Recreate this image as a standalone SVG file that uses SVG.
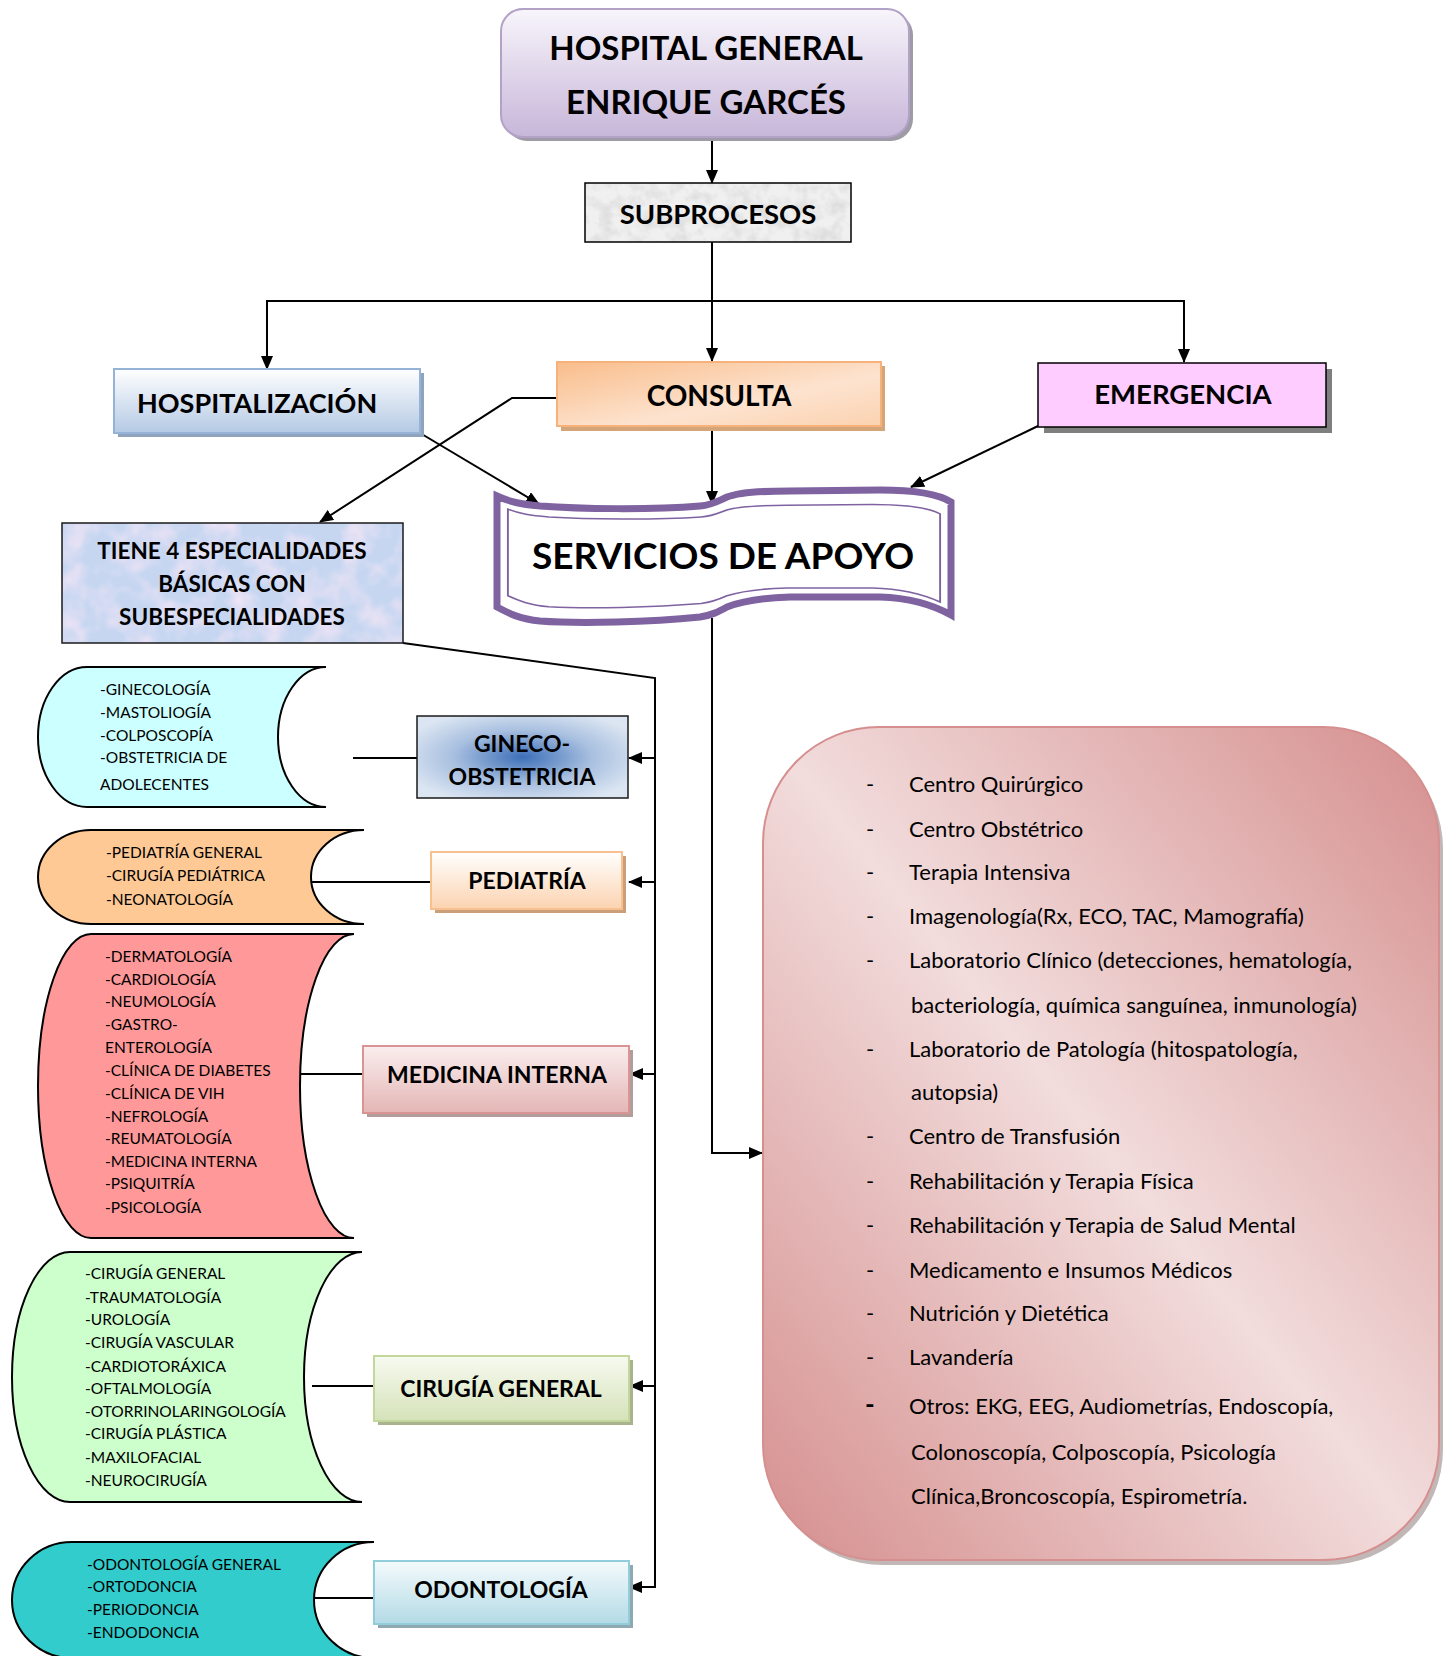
<svg xmlns="http://www.w3.org/2000/svg" width="1450" height="1656" viewBox="0 0 1450 1656">
<style>
.f{font-family:Lato,"Liberation Sans",sans-serif;fill:#000}
.b{font-weight:bold}
.c{text-anchor:middle}
.ln{stroke:#000;stroke-width:2;fill:none}
.ar{marker-end:url(#ah)}
.lst{font-size:15.5px}
.srv{font-size:22px}
.lbl{font-size:23px}
</style>
<defs>
<marker id="ah" viewBox="0 0 14 12" refX="13" refY="6" markerWidth="14" markerHeight="12" markerUnits="userSpaceOnUse" orient="auto"><path d="M0,0 L14,6 L0,12 z" fill="#000"/></marker>
<linearGradient id="gHosp" x1="0" y1="0" x2="0" y2="1"><stop offset="0" stop-color="#f8f5fb"/><stop offset="1" stop-color="#c7b6d9"/></linearGradient>
<linearGradient id="gHz" x1="0" y1="0" x2="0" y2="1"><stop offset="0" stop-color="#ffffff"/><stop offset="1" stop-color="#b4c9e4"/></linearGradient>
<linearGradient id="gCons" x1="0" y1="0" x2="1" y2="1"><stop offset="0" stop-color="#f9bd8b"/><stop offset="0.6" stop-color="#fde3cf"/><stop offset="1" stop-color="#fbd2b0"/></linearGradient>
<linearGradient id="gPed" x1="0" y1="0" x2="0" y2="1"><stop offset="0" stop-color="#ffffff"/><stop offset="1" stop-color="#fbd3b0"/></linearGradient>
<linearGradient id="gMed" x1="0" y1="0" x2="0" y2="1"><stop offset="0" stop-color="#faeeee"/><stop offset="1" stop-color="#e4b6b5"/></linearGradient>
<linearGradient id="gCir" x1="0" y1="0" x2="0" y2="1"><stop offset="0" stop-color="#f7faf0"/><stop offset="1" stop-color="#d5e2b9"/></linearGradient>
<linearGradient id="gOdo" x1="0" y1="0" x2="0" y2="1"><stop offset="0" stop-color="#f4fafc"/><stop offset="1" stop-color="#b3dbe6"/></linearGradient>
<radialGradient id="gGin" cx="0.5" cy="0.5" r="0.6"><stop offset="0" stop-color="#3c6fb8"/><stop offset="0.55" stop-color="#a9c0e0"/><stop offset="1" stop-color="#dce6f2"/></radialGradient>
<linearGradient id="gBig" x1="1" y1="0" x2="0" y2="1"><stop offset="0" stop-color="#d58f8e"/><stop offset="0.5" stop-color="#f2dcdc"/><stop offset="1" stop-color="#d58f8e"/></linearGradient>
<filter id="texG" x="0" y="0" width="1" height="1">
<feTurbulence type="fractalNoise" baseFrequency="0.07" numOctaves="3" seed="2" result="n"/>
<feColorMatrix in="n" type="matrix" values="0 0 0 0 0.62  0 0 0 0 0.62  0 0 0 0 0.62  0 0 0 1.4 -0.55" result="c"/>
<feComposite in="c" in2="SourceGraphic" operator="in"/>
</filter>
<filter id="texP" x="0" y="0" width="1" height="1">
<feTurbulence type="fractalNoise" baseFrequency="0.035" numOctaves="3" seed="7" result="n"/>
<feColorMatrix in="n" type="matrix" values="0 0 0 0 0.93  0 0 0 0 0.80  0 0 0 0 0.93  0 0 0 1.8 -0.7" result="c"/>
<feComposite in="c" in2="SourceGraphic" operator="in"/>
</filter>
<path id="wave" d="M497,496 C510,502 520,504 540,506 C580,509 650,510 700,506 C712,505 718,501 727,497 C740,492 760,491 790,491 L880,490 C920,490 940,495 951,502 L951,615 C935,606 910,598 880,597 L790,597 C760,598 740,602 727,607 C718,612 712,615 700,617 C650,622 580,624 540,621 C520,619 510,614 497,607 Z"/>
</defs>

<g id="connectors">
<path class="ln ar" d="M712,139 V183"/>
<path class="ln ar" d="M712,242 V361"/>
<path class="ln ar" d="M712,301 H267 V369"/>
<path class="ln ar" d="M712,301 H1184 V362"/>
<path class="ln ar" d="M420,433 L539,504"/>
<path class="ln ar" d="M557,398 H512 L320,522"/>
<path class="ln ar" d="M712,431 V504"/>
<path class="ln ar" d="M1038,426 L911,487"/>
<path class="ln ar" d="M712,618 V1153 H762"/>
<path class="ln ar" d="M403,643 L655,678 V1587 H629"/>
<path class="ln ar" d="M655,758 H629"/>
<path class="ln ar" d="M655,882 H629"/>
<path class="ln ar" d="M655,1074 H630"/>
<path class="ln ar" d="M655,1386 H630"/>
<path class="ln" d="M353,758 H417"/>
<path class="ln" d="M311,882 H431"/>
<path class="ln" d="M300,1074 H363"/>
<path class="ln" d="M312,1386 H374"/>
<path class="ln" d="M314,1598 H374"/>
</g>

<g id="hospital">
<rect x="505" y="13" width="408" height="128" rx="22" fill="#9e9aa6"/>
<rect x="501" y="9" width="408" height="128" rx="22" fill="url(#gHosp)" stroke="#b3a2c7" stroke-width="2"/>
<text class="f b c" x="706" y="60" font-size="33">HOSPITAL GENERAL</text>
<text class="f b c" x="706" y="114" font-size="33">ENRIQUE GARCÉS</text>
</g>

<g id="subprocesos">
<rect x="585" y="183" width="266" height="59" fill="#f0f0f0"/>
<rect x="585" y="183" width="266" height="59" fill="#fff" filter="url(#texG)"/>
<rect x="585" y="183" width="266" height="59" fill="none" stroke="#000" stroke-width="1.5"/>
<text class="f b c" x="718" y="224" font-size="27.5">SUBPROCESOS</text>
</g>

<g id="hospitalizacion">
<rect x="118" y="373" width="306" height="64" fill="#8fa3bd"/>
<rect x="114" y="369" width="306" height="64" fill="url(#gHz)" stroke="#95b3d7" stroke-width="2"/>
<text class="f b" x="137" y="413" font-size="27">HOSPITALIZACIÓN</text>
</g>

<g id="consulta">
<rect x="561" y="366" width="324" height="65" fill="#d3a578"/>
<rect x="557" y="362" width="324" height="64" fill="url(#gCons)" stroke="#f6b27a" stroke-width="2"/>
<text class="f b c" x="719" y="406" font-size="28">CONSULTA</text>
</g>

<g id="emergencia">
<rect x="1044" y="369" width="288" height="64" fill="#7f7f7f"/>
<rect x="1038" y="363" width="288" height="64" fill="#ffccff" stroke="#000" stroke-width="1.5"/>
<text class="f b c" x="1183" y="404" font-size="27.5">EMERGENCIA</text>
</g>

<g id="servicios">
<use href="#wave" fill="#fff" stroke="#7f63a1" stroke-width="7" stroke-linejoin="miter"/>
<use href="#wave" fill="none" stroke="#7f63a1" stroke-width="2" vector-effect="non-scaling-stroke" transform="translate(724,556) scale(0.952,0.78) translate(-724,-556)"/>
<text class="f b c" x="723" y="569" font-size="37">SERVICIOS DE APOYO</text>
</g>

<g id="tiene">
<rect x="62" y="523" width="341" height="120" fill="#c6d6f1"/>
<rect x="62" y="523" width="341" height="120" fill="#fff" filter="url(#texP)"/>
<rect x="62" y="523" width="341" height="120" fill="none" stroke="#1a1a1a" stroke-width="1.5"/>
<text class="f b c" x="232" y="559" font-size="22.5">TIENE 4 ESPECIALIDADES</text>
<text class="f b c" x="232" y="592" font-size="22.5">BÁSICAS CON</text>
<text class="f b c" x="232" y="625" font-size="22.5">SUBESPECIALIDADES</text>
</g>

<g id="gineco-lista">
<path d="M87,667 H326 A48,70 0 0 0 326,807 H87 A49,70 0 0 1 87,667 Z" fill="#ccffff" stroke="#000" stroke-width="2"/>
<text class="f lst" x="100" y="695">-GINECOLOGÍA</text>
<text class="f lst" x="100" y="718">-MASTOLIOGÍA</text>
<text class="f lst" x="100" y="741">-COLPOSCOPÍA</text>
<text class="f lst" x="100" y="763">-OBSTETRICIA DE</text>
<text class="f lst" x="100" y="790">ADOLECENTES</text>
</g>
<g id="gineco">
<rect x="417" y="716" width="211" height="82" fill="url(#gGin)" stroke="#1a1a1a" stroke-width="1.5"/>
<text class="f b c lbl" x="522" y="752">GINECO-</text>
<text class="f b c lbl" x="522" y="785">OBSTETRICIA</text>
</g>

<g id="pediatria-lista">
<path d="M91,830 H364 A53,47 0 0 0 364,924 H91 A53,47 0 0 1 91,830 Z" fill="#fec995" stroke="#000" stroke-width="2"/>
<text class="f lst" x="106" y="858">-PEDIATRÍA GENERAL</text>
<text class="f lst" x="106" y="881">-CIRUGÍA PEDIÁTRICA</text>
<text class="f lst" x="106" y="905">-NEONATOLOGÍA</text>
</g>
<g id="pediatria">
<rect x="435" y="856" width="191" height="57" fill="#c9a07a"/>
<rect x="431" y="852" width="191" height="57" fill="url(#gPed)" stroke="#f9c08f" stroke-width="2"/>
<text class="f b c lbl" x="527" y="889">PEDIATRÍA</text>
</g>

<g id="medicina-lista">
<path d="M91,934 H354 A54,152 0 0 0 354,1238 H91 A53,152 0 0 1 91,934 Z" fill="#ff9999" stroke="#000" stroke-width="2"/>
<text class="f lst" x="105" y="962">-DERMATOLOGÍA</text>
<text class="f lst" x="105" y="985">-CARDIOLOGÍA</text>
<text class="f lst" x="105" y="1007">-NEUMOLOGÍA</text>
<text class="f lst" x="105" y="1030">-GASTRO-</text>
<text class="f lst" x="105" y="1053">ENTEROLOGÍA</text>
<text class="f lst" x="105" y="1076">-CLÍNICA DE DIABETES</text>
<text class="f lst" x="105" y="1099">-CLÍNICA DE VIH</text>
<text class="f lst" x="105" y="1122">-NEFROLOGÍA</text>
<text class="f lst" x="105" y="1144">-REUMATOLOGÍA</text>
<text class="f lst" x="105" y="1167">-MEDICINA INTERNA</text>
<text class="f lst" x="105" y="1189">-PSIQUITRÍA</text>
<text class="f lst" x="105" y="1213">-PSICOLOGÍA</text>
</g>
<g id="medicina">
<rect x="367" y="1050" width="266" height="67" fill="#b39c9c"/>
<rect x="363" y="1046" width="266" height="67" fill="url(#gMed)" stroke="#d99594" stroke-width="2"/>
<text class="f b c lbl" x="497" y="1083">MEDICINA INTERNA</text>
</g>

<g id="cirugia-lista">
<path d="M70,1252 H362 A58,125 0 0 0 362,1502 H70 A58,125 0 0 1 70,1252 Z" fill="#ccffcc" stroke="#000" stroke-width="2"/>
<text class="f lst" x="85" y="1279">-CIRUGÍA GENERAL</text>
<text class="f lst" x="85" y="1303">-TRAUMATOLOGÍA</text>
<text class="f lst" x="85" y="1325">-UROLOGÍA</text>
<text class="f lst" x="85" y="1348">-CIRUGÍA VASCULAR</text>
<text class="f lst" x="85" y="1372">-CARDIOTORÁXICA</text>
<text class="f lst" x="85" y="1394">-OFTALMOLOGÍA</text>
<text class="f lst" x="85" y="1417">-OTORRINOLARINGOLOGÍA</text>
<text class="f lst" x="85" y="1439">-CIRUGÍA PLÁSTICA</text>
<text class="f lst" x="85" y="1463">-MAXILOFACIAL</text>
<text class="f lst" x="85" y="1486">-NEUROCIRUGÍA</text>
</g>
<g id="cirugia">
<rect x="378" y="1360" width="255" height="65" fill="#a9b48f"/>
<rect x="374" y="1356" width="255" height="65" fill="url(#gCir)" stroke="#c3d69b" stroke-width="2"/>
<text class="f b c lbl" x="501" y="1397">CIRUGÍA GENERAL</text>
</g>

<g id="odontologia-lista">
<path d="M72,1542 H374 A60,58 0 0 0 374,1658 H72 A60,58 0 0 1 72,1542 Z" fill="#33cccc" stroke="#000" stroke-width="2"/>
<text class="f lst" x="87" y="1570">-ODONTOLOGÍA GENERAL</text>
<text class="f lst" x="87" y="1592">-ORTODONCIA</text>
<text class="f lst" x="87" y="1615">-PERIODONCIA</text>
<text class="f lst" x="87" y="1638">-ENDODONCIA</text>
</g>
<g id="odontologia">
<rect x="378" y="1565" width="255" height="63" fill="#8ea9b2"/>
<rect x="374" y="1561" width="255" height="63" fill="url(#gOdo)" stroke="#92cddc" stroke-width="2"/>
<text class="f b c lbl" x="501" y="1598">ODONTOLOGÍA</text>
</g>

<g id="servicios-lista">
<rect x="767" y="733" width="676" height="832" rx="116" fill="#a89898" opacity="0.7"/>
<rect x="763" y="727" width="676" height="833" rx="116" fill="url(#gBig)" stroke="#d58f8e" stroke-width="2"/>
<g class="f srv">
<text x="866" y="792">-</text><text x="909" y="792">Centro Quirúrgico</text>
<text x="866" y="837">-</text><text x="909" y="837">Centro Obstétrico</text>
<text x="866" y="880">-</text><text x="909" y="880">Terapia Intensiva</text>
<text x="866" y="924">-</text><text x="909" y="924">Imagenología(Rx, ECO, TAC, Mamografía)</text>
<text x="866" y="968">-</text><text x="909" y="968">Laboratorio Clínico (detecciones, hematología,</text>
<text x="911" y="1013">bacteriología, química sanguínea, inmunología)</text>
<text x="866" y="1057">-</text><text x="909" y="1057">Laboratorio de Patología (hitospatología,</text>
<text x="911" y="1100">autopsia)</text>
<text x="866" y="1144">-</text><text x="909" y="1144">Centro de Transfusión</text>
<text x="866" y="1189">-</text><text x="909" y="1189">Rehabilitación y Terapia Física</text>
<text x="866" y="1233">-</text><text x="909" y="1233">Rehabilitación y Terapia de Salud Mental</text>
<text x="866" y="1278">-</text><text x="909" y="1278">Medicamento e Insumos Médicos</text>
<text x="866" y="1321">-</text><text x="909" y="1321">Nutrición y Dietética</text>
<text x="866" y="1365">-</text><text x="909" y="1365">Lavandería</text>
<text x="865" y="1414" font-weight="bold" font-size="26">-</text><text x="909" y="1414">Otros: EKG, EEG, Audiometrías, Endoscopía,</text>
<text x="911" y="1460">Colonoscopía, Colposcopía, Psicología</text>
<text x="911" y="1504">Clínica,Broncoscopía, Espirometría.</text>
</g>
</g>
</svg>
